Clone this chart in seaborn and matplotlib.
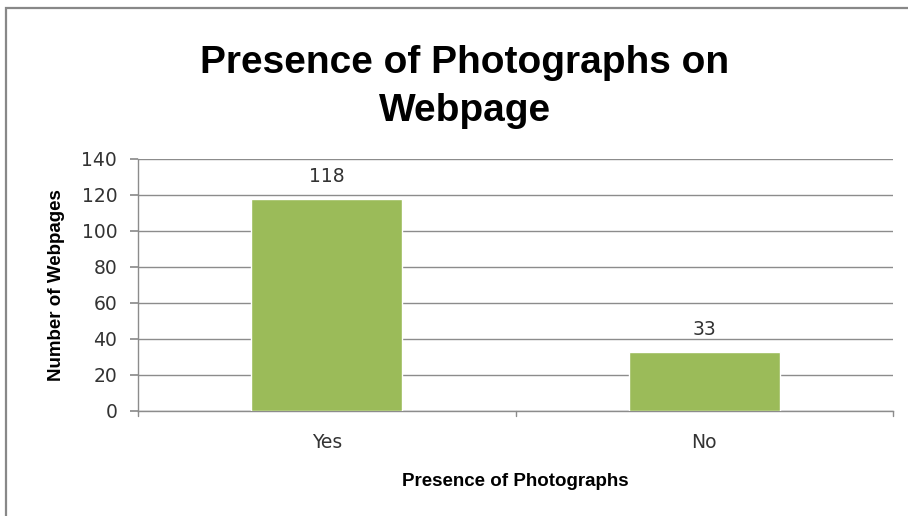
import matplotlib
matplotlib.use("Agg")
import matplotlib.pyplot as plt
import seaborn as sns
import pandas as pd
from matplotlib.patches import Rectangle

categories = ["Yes", "No"]
counts = [118, 33]
y_ticks = [0, 20, 40, 60, 80, 100, 120, 140]

sns.set_theme(style="white")
plt.rcParams["font.family"] = ["DejaVu Sans"]

df = pd.DataFrame({"Presence": categories, "Count": counts})

fig = plt.figure(figsize=(9.08, 5.16), dpi=100)
ax = fig.add_axes([138 / 908, 1 - 411 / 516, (893 - 138) / 908, (411 - 159) / 516])

sns.barplot(data=df, x="Presence", y="Count", color="#9BBB59", width=0.4,
            saturation=1, ax=ax, zorder=3)

ax.set_ylim(0, 140)
ax.set_xlim(-0.5, 1.5)
ax.set_yticks(y_ticks)
ax.yaxis.grid(True, color="#8C8C8C", linewidth=1, zorder=0)
ax.set_axisbelow(True)

for side in ["top", "right"]:
    ax.spines[side].set_visible(False)
for side in ["left", "bottom"]:
    ax.spines[side].set_color("#8C8C8C")
    ax.spines[side].set_linewidth(1)

tick_color = "#333333"
ax.tick_params(axis="y", which="both", left=True, length=6, color="#8C8C8C",
               labelsize=13.5, pad=9, labelcolor=tick_color)
ax.tick_params(axis="x", which="both", bottom=False, labelsize=13.5, pad=10,
               labelcolor=tick_color)

# category separators on the x axis
for xpos in [-0.5, 0.5, 1.5]:
    ax.plot([xpos, xpos], [0, -2.6], color="#8C8C8C", lw=1, clip_on=False)

for i, v in enumerate(counts):
    ax.text(i, v + 7, str(v), ha="center", va="bottom", fontsize=13.5, color=tick_color)

ax.set_xlabel("Presence of Photographs", fontsize=13.5, fontweight="bold",
              labelpad=15, fontfamily="Liberation Sans", color="black")
ax.set_ylabel("Number of Webpages", fontsize=13.5, fontweight="bold",
              labelpad=12, fontfamily="Liberation Sans", color="black")

fig.suptitle("Presence of Photographs on\nWebpage", fontsize=28, fontweight="bold",
             x=0.512, y=0.913, linespacing=1.42, fontfamily="Liberation Sans",
             color="black")

# chart frame
fig.patches.append(Rectangle((6 / 908, -0.1), 1.2, 1 - 8 / 516 + 0.1,
                             transform=fig.transFigure, fill=False,
                             edgecolor="#888888", linewidth=1.6))

fig.savefig("out.png", dpi=100)
